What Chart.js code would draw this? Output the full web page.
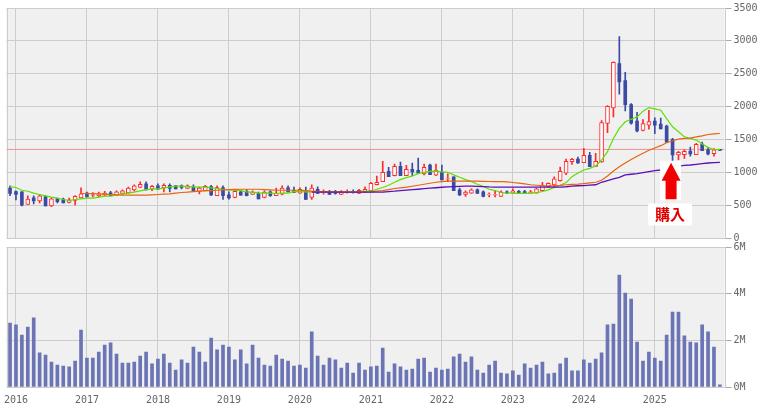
<!DOCTYPE html>
<html><head><meta charset="utf-8">
<script src="https://cdn.jsdelivr.net/npm/chart.js@4/dist/chart.umd.min.js"></script>
<style>html,body{margin:0;padding:0;background:#fff;overflow:hidden}canvas{position:absolute;left:0}</style>
</head><body>
<canvas id="vol" width="761" height="171" style="top:239px;width:761px;height:171px"></canvas>
<canvas id="price" width="761" height="244" style="top:0;width:761px;height:244px"></canvas>
<script>
const yearLabels=['2016','2017','2018','2019','2020','2021','2022','2023','2024','2025'];
const yearIndexes=[1,13,25,37,49,61,73,85,97,109];
const opens=[758,707,702,510,611,566,631,490,596,591,
540,570,611,682,647,646,651,687,651,677,
687,732,768,823,742,793,763,803,793,793,
753,773,707,722,783,646,768,657,616,702,
712,662,677,616,702,646,667,763,722,682,
727,616,742,692,712,697,662,702,702,677,
702,722,813,859,1015,949,1091,949,1045,1030,
975,1111,955,1005,899,929,732,662,682,732,
702,657,652,631,702,682,712,707,682,682,
722,783,808,874,985,1162,1202,1146,1258,1091,
1157,1742,1980,2656,2394,2030,1778,1636,1717,1778,
1732,1702,1500,1263,1268,1323,1268,1429,1343,1283,
1348];
const closes=[677,662,500,591,566,641,490,596,551,535,
581,636,672,626,662,667,682,646,702,717,
758,793,818,732,788,742,803,753,747,768,
793,717,758,788,657,768,646,611,712,651,
646,697,596,697,646,682,758,702,692,742,
586,758,677,702,662,677,697,707,697,727,
742,833,848,1000,934,1091,949,1045,1005,985,
1076,965,1035,884,904,722,657,697,732,677,
631,662,662,697,682,717,682,682,702,747,
798,833,899,1015,1167,1197,1141,1258,1086,1167,
1758,2005,2672,2374,2030,1747,1631,1742,1773,1717,
1661,1460,1263,1303,1318,1278,1424,1328,1278,1343,
1333];
const highs=[793,717,702,641,641,657,641,606,606,606,
606,647,763,697,692,697,712,712,717,732,
773,808,853,853,803,823,823,823,803,808,
808,808,773,803,803,793,793,702,727,727,
737,717,697,717,717,758,793,793,773,763,
773,808,778,732,727,727,722,732,732,742,
778,848,944,1167,1076,1126,1157,1106,1141,1217,
1126,1126,1126,1111,975,929,758,717,747,747,
717,687,727,717,717,747,727,727,727,757,
848,838,929,1081,1202,1212,1232,1364,1303,1288,
1788,2015,2682,3065,2520,2045,1914,1803,1944,1828,
1823,1717,1515,1318,1343,1384,1439,1460,1379,1359,
1348];
const lows=[646,581,490,510,520,535,490,475,535,535,
535,505,611,626,626,626,641,641,651,672,
687,712,768,732,722,742,702,702,747,747,
753,717,672,722,646,646,586,591,611,651,
641,662,596,611,631,646,657,702,692,677,
586,586,677,667,662,667,662,682,682,677,
697,717,808,859,934,944,949,949,944,985,
960,965,950,884,859,722,646,631,677,677,
626,626,626,631,682,682,682,682,682,682,
717,768,783,864,965,1121,1136,1146,1086,1086,
1152,1601,1843,2187,1934,1732,1616,1631,1656,1586,
1661,1460,1172,1187,1212,1247,1268,1328,1263,1247,
1333];
const volumes=[2.74,2.66,2.23,2.57,2.96,1.46,1.37,1.07,0.94,0.90,0.86,1.11,2.44,1.24,1.24,1.50,1.80,1.89,1.41,1.03,1.03,1.07,1.33,1.50,0.99,1.20,1.41,1.03,0.73,1.16,1.03,1.71,1.50,1.07,2.10,1.59,1.80,1.71,1.16,1.59,0.99,1.80,1.24,0.94,0.90,1.37,1.20,1.11,0.90,0.94,0.81,2.36,1.33,0.94,1.24,1.16,0.81,1.03,0.60,1.03,0.73,0.86,0.90,
1.67,0.64,0.99,0.86,0.73,0.77,1.20,1.24,0.64,0.81,0.73,0.77,1.29,1.41,1.07,1.29,0.73,0.60,0.94,1.11,0.60,0.56,0.69,0.51,0.99,0.81,0.94,1.07,0.56,0.60,0.99,1.24,0.69,0.69,1.16,1.03,1.20,1.46,2.66,2.70,4.80,4.03,3.77,1.93,1.11,1.50,1.24,1.11,2.23,3.21,3.21,2.19,1.93,1.89,2.66,2.36,1.71,0.09];
const maShort=[783,768,727,712,682,662,641,621,606,586,571,586,596,606,606,621,636,636,657,672,682,697,717,737,747,747,758,778,788,788,783,778,773,773,763,753,742,732,727,722,702,
697,687,682,682,677,682,682,707,707,702,702,707,707,707,702,697,697,702,707,712,712,742,768,803,848,889,919,944,980,1000,1015,1015,1005,1000,960,924,889,859,818,783,742,722,692,
685,682,680,680,682,690,707,732,768,803,843,934,990,1035,1060,1096,1187,1313,1515,1667,1768,1808,1843,1930,1985,1965,1944,1818,1692,1616,1540,1515,1490,1429,1379,1343,1348];
const maMid=[null,null,null,null,null,null,null,null,null,null,null,null,
677,677,677,672,667,662,657,652,652,652,652,652,657,662,667,672,682,692,697,707,712,717,722,727,732,737,740,742,742,
742,742,737,732,727,727,727,727,727,722,712,707,707,702,702,702,697,697,697,697,702,712,722,737,753,763,773,788,803,818,833,848,858,864,864,864,864,864,864,862,860,859,859,
855,845,835,825,810,803,795,793,793,800,810,815,820,828,838,848,878,944,1020,1085,1140,1195,1245,1290,1335,1370,1405,1450,1480,1505,1515,1520,1540,1555,1575,1585,1590];
const maLong=[null,null,null,null,null,null,null,null,null,null,null,null,null,null,null,null,null,null,null,null,null,null,null,null,null,null,null,null,null,null,null,null,null,null,null,null,null,null,null,null,null,null,null,null,null,null,null,null,null,null,null,
697,697,697,697,697,697,697,697,697,697,697,697,697,707,712,720,727,735,742,750,758,765,772,778,783,786,788,788,787,783,778,775,773,
773,773,773,773,773,773,773,773,774,775,780,790,795,798,805,810,848,874,899,924,960,970,980,995,1010,1025,1035,1060,1075,1095,1106,1111,1121,1131,1141,1146,1150];
const currentPrice=1348;
const priceTicks=[0,500,1000,1500,2000,2500,3000,3500];
const volumeTicks=[0,2,4,6];
const arrowText='購入';
const arrowIndex=111.75, arrowTipPrice=1146, arrowBasePrice=590, arrowTextPrice=358;

const xMin=-0.6, xMax=120.78;
const GRID='#cccccc', TXT='#666666', BG='#f0f0f0';
const FONT={family:'"DejaVu Sans Mono",monospace',size:10};
const panel={id:'panel',beforeDraw(c){const a=c.chartArea,x=c.ctx;x.save();x.fillStyle=BG;x.fillRect(a.left,a.top,a.width,a.height);x.restore();}};
const border={id:'border',beforeDatasetsDraw(c){const a=c.chartArea,x=c.ctx;x.save();x.strokeStyle=GRID;x.lineWidth=1;x.strokeRect(Math.round(a.left)+.5,Math.round(a.top)+.5,Math.round(a.width),Math.round(a.height));x.restore();}};
const arrow={id:'arrow',afterDatasetsDraw(c){
 const x=c.ctx,sx=c.scales.x,sy=c.scales.y,cx=sx.getPixelForValue(arrowIndex),tip=sy.getPixelForValue(arrowTipPrice),base=sy.getPixelForValue(arrowBasePrice),ty=sy.getPixelForValue(arrowTextPrice);
 x.save();
 x.fillStyle='#fff';x.fillRect(cx-11,tip-2,21,base-tip+3);x.fillRect(cx-23,ty-11,44,22);
 x.fillStyle='#f00000';x.beginPath();x.moveTo(cx,tip);x.lineTo(cx+9.5,tip+18);x.lineTo(cx+5.5,tip+18);x.lineTo(cx+5.5,base);x.lineTo(cx-5.5,base);x.lineTo(cx-5.5,tip+18);x.lineTo(cx-9.5,tip+18);x.closePath();x.fill();
 x.fillStyle='#e00000';x.font='bold 15px "Noto Sans CJK JP"';x.textAlign='center';x.textBaseline='middle';x.fillText(arrowText,cx-1,ty);
 x.restore();}};
function xAxis(showLabels){return {type:'linear',offset:false,min:xMin,max:xMax,
 afterBuildTicks(s){s.ticks=yearIndexes.map(v=>({value:v}));},
 afterFit(s){s.height=showLabels?23:0;s.paddingLeft=0;s.paddingRight=0;},
 grid:{color:GRID,lineWidth:1,drawTicks:false,offset:false},border:{display:false},
 ticks:{display:showLabels,color:TXT,font:FONT,padding:7,maxRotation:0,autoSkip:false,
  callback(v){const i=yearIndexes.indexOf(v);return i<0?'':yearLabels[i];}}};}
function yAxis(min,max,tickVals,fmt){return {type:'linear',position:'right',min,max,
 afterBuildTicks(s){s.ticks=tickVals.map(v=>({value:v}));},
 afterFit(s){s.width=36.5;s.paddingTop=0;s.paddingBottom=0;},
 grid:{color:GRID,lineWidth:1,tickLength:7,tickColor:'#aaaaaa'},border:{display:false},
 ticks:{color:TXT,font:FONT,padding:2,callback:fmt}};}
const idx=opens.map((_,i)=>i);
const wicks=idx.map(i=>({x:i,y:[lows[i],highs[i]]}));
const upBodies=idx.filter(i=>closes[i]>=opens[i]).map(i=>({x:i,y:[opens[i],closes[i]]}));
const downBodies=idx.filter(i=>closes[i]<opens[i]).map(i=>({x:i,y:[closes[i],opens[i]]}));
const RED='#ff2a2a', BLUE='#3b4ba3';
const line=(label,arr,color,order,w)=>({type:'line',label,data:arr.map((v,i)=>v==null?null:{x:i,y:v}).filter(Boolean),borderColor:color,borderWidth:w||1.2,pointRadius:0,tension:0,order,spanGaps:true});
new Chart(document.getElementById('price'),{type:'bar',
 data:{datasets:[
  {label:'wick',data:wicks,backgroundColor:idx.map(i=>closes[i]>=opens[i]?RED:BLUE),barThickness:1,order:6,grouped:false},
  {label:'up',data:upBodies,backgroundColor:'#ffffff',borderColor:RED,borderWidth:1,borderSkipped:false,barThickness:4,order:5,grouped:false},
  {label:'down',data:downBodies,backgroundColor:BLUE,barThickness:3,order:5,grouped:false},
  {type:'line',label:'last',data:[{x:xMin,y:currentPrice},{x:xMax,y:currentPrice}],borderColor:'#f09090',borderWidth:1,pointRadius:0,order:7},
  line('long',maLong,'#5a10b8',1,1.3),
  line('mid',maMid,'#e8640f',2,1.2),
  line('short',maShort,'#5ce000',3,1.2)
 ]},
 options:{responsive:false,animation:false,devicePixelRatio:1,
  layout:{padding:{left:6.5,right:0,top:8,bottom:6}},
  plugins:{legend:{display:false},tooltip:{enabled:false}},
  scales:{x:xAxis(false),y:yAxis(0,3500,priceTicks,v=>String(v))}},
 plugins:[panel,border,arrow]});
new Chart(document.getElementById('vol'),{type:'bar',
 data:{datasets:[{label:'volume',data:volumes.map((v,i)=>({x:i,y:v})),backgroundColor:'#6b74b5',barThickness:3}]},
 options:{responsive:false,animation:false,devicePixelRatio:1,
  layout:{padding:{left:6.5,right:0,top:8,bottom:0}},
  plugins:{legend:{display:false},tooltip:{enabled:false}},
  scales:{x:xAxis(true),y:yAxis(0,6,volumeTicks,v=>v+'M')}},
 plugins:[panel,border]});
</script>
</body></html>
